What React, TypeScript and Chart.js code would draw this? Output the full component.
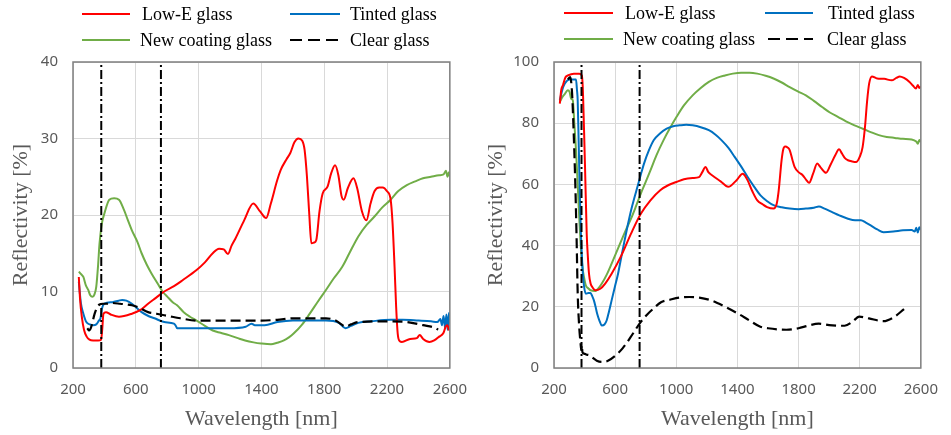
import React, { useEffect, useRef } from 'react';
import { Chart, registerables } from 'chart.js';
Chart.register(...registerables);

// ---------- shared ----------
const xTicks = [200, 600, 1000, 1400, 1800, 2200, 2600];
const visibleBounds = [380, 760];
const seriesNames = ['Low-E glass', 'Tinted glass', 'New coating glass', 'Clear glass'];

// ---------- left panel (reflectivity 0-40 %) ----------
const leftLowE = [[237,11.9],[245,9],[256,6.7],[270,5],[287,4.1],[305,3.7],[328,3.6],[360,3.6],[379,3.7],[386,5],[394,7.1],[410,7.3],[440,7],[493,6.7],[575,7.1],[630,7.6],[678,8.4],[730,9.2],[781,10.0],[843,10.7],[900,11.5],[987,12.8],[1040,13.8],[1090,15.0],[1130,15.6],[1160,15.5],[1187,14.9],[1210,16],[1234,16.9],[1290,19.3],[1348,21.5],[1390,20.5],[1430,19.6],[1460,21.5],[1500,24.5],[1523,25.9],[1560,27.3],[1584,28.1],[1610,29.5],[1636,30.0],[1660,29.7],[1675,28.5],[1690,25],[1705,20],[1718,16.3],[1735,16.4],[1749,16.7],[1770,20.5],[1790,22.8],[1821,23.7],[1845,25.5],[1869,26.5],[1890,25.2],[1910,22.5],[1924,22.0],[1950,23.5],[1986,24.8],[2010,23.5],[2040,20.5],[2069,19.3],[2095,21.5],[2120,23.1],[2150,23.6],[2172,23.6],[2200,23.1],[2223,22.0],[2235,19],[2248,13.2],[2258,8],[2268,4.5],[2282,3.5],[2295,3.4],[2347,3.8],[2390,3.9],[2408,4.3],[2430,3.8],[2470,3.4],[2500,3.6],[2532,4.1],[2560,4.6],[2573,5.4],[2585,5.6],[2594,4.9]];
const leftTinted = [[237,11.3],[250,8.5],[266,7.1],[285,6.0],[307,5.7],[330,5.6],[348,5.7],[365,6.2],[375,6.5],[385,7.8],[400,8.4],[451,8.6],[490,8.8],[513,8.9],[540,8.8],[575,8.4],[637,7.3],[680,6.8],[719,6.5],[781,6.0],[843,5.8],[855,5.5],[863,5.2],[987,5.2],[1193,5.2],[1300,5.4],[1337,5.8],[1358,5.6],[1420,5.6],[1502,6.0],[1600,6.2],[1708,6.2],[1811,6.2],[1893,5.9],[1935,5.2],[1970,5.5],[2017,5.9],[2100,6.1],[2223,6.3],[2300,6.3],[2400,6.2],[2480,6.1],[2520,6.0],[2540,6.4],[2550,5.6],[2560,6.8],[2570,5.2],[2578,7.0],[2586,5.0],[2594,7.2],[2600,5.8]];
const leftNewCoating = [[237,12.6],[250,12.3],[266,11.9],[282,10.8],[297,10.2],[310,9.5],[324,9.3],[336,9.6],[348,10.6],[360,13.5],[369,16.3],[385,19],[400,20.2],[431,22.0],[462,22.2],[493,22.0],[524,20.7],[550,19.3],[575,18.0],[610,16.5],[637,15.0],[670,13.5],[699,12.4],[740,11.0],[770,10.0],[802,9.3],[835,8.6],[863,8.2],[905,7.3],[945,6.7],[987,6.2],[1040,5.5],[1090,4.9],[1140,4.6],[1193,4.3],[1250,3.9],[1296,3.6],[1350,3.35],[1399,3.2],[1461,3.1],[1500,3.3],[1543,3.6],[1575,4.0],[1605,4.5],[1660,5.7],[1708,7.1],[1760,8.7],[1811,10.2],[1860,11.7],[1914,13.2],[1960,15.0],[2017,17.2],[2070,18.7],[2120,19.8],[2170,21.0],[2223,22.0],[2270,23.1],[2326,23.9],[2380,24.4],[2429,24.8],[2480,25.0],[2532,25.2],[2560,25.3],[2575,25.8],[2585,25.0],[2594,25.6],[2600,25.1]];
const leftClear = [[291,5.2],[303,4.9],[315,5.3],[338,7.1],[355,8.0],[369,8.3],[390,8.4],[410,8.4],[450,8.5],[500,8.4],[575,8.2],[620,7.9],[678,7.3],[730,7.1],[781,6.9],[830,6.7],[884,6.5],[987,6.2],[1200,6.2],[1399,6.2],[1500,6.3],[1605,6.5],[1811,6.5],[1873,6.2],[1910,5.7],[1935,5.4],[1970,5.7],[2017,6.0],[2223,6.1],[2330,6.0],[2429,5.6],[2511,5.2],[2525,5.0]];

// ---------- right panel (reflectivity 0-100 %) ----------
const rightLowE = [[238,86.4],[248,91.0],[259,92.5],[275,95.0],[291,95.6],[330,96.2],[365,96.2],[382,95.6],[388,92],[391,87.5],[397,77],[403,65.7],[414,43.9],[422,36],[429,30.8],[440,27.5],[450,26.5],[471,25.4],[503,25.9],[535,27.6],[577,30.8],[641,36.8],[704,43.9],[768,50.4],[831,54.8],[895,58.1],[950,59.8],[1001,60.8],[1050,61.7],[1107,62.1],[1149,62.4],[1170,64],[1191,65.7],[1210,64],[1234,63.0],[1290,61],[1340,59.2],[1393,61.3],[1435,63.5],[1450,62.8],[1467,61.3],[1500,57.5],[1530,54.8],[1565,53.5],[1594,52.6],[1636,52.1],[1657,53.7],[1670,58],[1689,67.9],[1700,71.5],[1712,72.4],[1730,72],[1742,71.2],[1760,68],[1774,65.7],[1800,64],[1827,63.0],[1850,61.5],[1869,60.5],[1895,63.5],[1922,66.8],[1945,65.5],[1980,63.8],[2010,66.5],[2040,69.5],[2065,71.5],[2085,70],[2105,68.5],[2123,67.9],[2150,67.5],[2176,67.3],[2200,69],[2219,72.2],[2235,79],[2248,87],[2262,93],[2280,95.3],[2314,94.6],[2360,94.5],[2409,94.0],[2440,94.8],[2462,95.3],[2490,94.8],[2526,93.5],[2548,92.3],[2568,91.3],[2580,92.5],[2590,91.5],[2600,92.0]];
const rightTinted = [[238,87.5],[255,91],[270,92.9],[302,94.3],[344,94.3],[350,91],[355,87.5],[360,77],[365,65.7],[370,55],[376,43.9],[382,37],[390,30],[397,26.5],[408,24.3],[425,24.5],[439,24.5],[450,23.5],[461,22.1],[472,20],[482,17.8],[497,15.5],[513,13.9],[530,14.2],[545,15.6],[560,18.5],[577,22.1],[598,26.5],[619,30.8],[640,36.2],[662,41.7],[683,46.8],[704,51.5],[725,55.5],[746,59.2],[768,63.2],[789,66.8],[820,71],[852,74.4],[895,76.7],[937,78.2],[980,79],[1022,79.3],[1065,79.5],[1107,79.3],[1160,78.7],[1213,77.7],[1255,76.3],[1297,74.4],[1340,72],[1382,69.0],[1425,65.8],[1467,62.4],[1510,59.2],[1551,56.4],[1595,54.5],[1636,53.2],[1690,52.5],[1742,52.1],[1800,51.9],[1848,52.1],[1900,52.4],[1933,52.8],[1970,52.1],[2017,51.0],[2070,49.8],[2123,48.8],[2170,48.3],[2208,48.3],[2240,47.5],[2272,46.6],[2315,45.3],[2356,44.4],[2420,44.6],[2483,45.0],[2540,45.1],[2560,44.6],[2570,45.8],[2580,44.3],[2590,46],[2600,45.2]];
const rightNewCoating = [[238,86.9],[255,88.6],[270,89.5],[290,90.8],[302,90.2],[312,88],[323,87.5],[333,80],[344,71.1],[355,60],[365,49.3],[375,40],[386,33.0],[397,29.5],[408,27.0],[425,26],[439,25.4],[471,25.2],[490,26],[513,27.6],[545,30.5],[577,34.1],[610,38],[641,41.7],[672,45.3],[704,48.8],[736,52.8],[768,57.0],[800,60.8],[831,64.6],[870,69.5],[916,74.4],[960,78.5],[1001,82.0],[1050,85.8],[1107,89.1],[1160,91.5],[1213,93.5],[1265,94.8],[1318,95.6],[1370,96.2],[1424,96.5],[1480,96.5],[1530,96.2],[1585,95.5],[1636,94.6],[1690,93.3],[1742,91.8],[1795,90.4],[1848,89.1],[1900,87.3],[1954,85.3],[2005,83.5],[2060,82.0],[2110,80.6],[2166,79.3],[2220,78.2],[2272,77.1],[2325,76.1],[2377,75.5],[2430,75.2],[2483,74.9],[2540,74.7],[2570,74.0],[2580,73.3],[2590,74.5],[2600,73.9]];
const rightClear = [[291,94.3],[306,95.1],[318,90],[328,78],[340,59],[348,42],[355,24.4],[365,13.4],[374,8],[378,6],[382,7.5],[386,5.2],[397,4.7],[410,4.4],[429,4.2],[450,3.5],[480,2.4],[513,2.0],[550,2.3],[600,4],[650,6.5],[700,10],[767,15],[810,17.5],[852,19.5],[900,21.5],[958,22.3],[1020,23],[1085,23.2],[1150,23],[1234,22],[1320,20],[1403,17.8],[1480,15.5],[1550,13.5],[1600,13],[1720,12.5],[1800,13],[1860,13.8],[1932,14.5],[2000,14],[2101,13.8],[2150,15],[2197,16.8],[2260,16.2],[2356,15.3],[2420,16.5],[2494,19.4]];

const TICK_COLOR = '#595959';
const TICK_FONT = { family: '"Noto Sans", sans-serif', size: 15 };
const TITLE_FONT = { family: '"Liberation Serif", "Times New Roman", serif', size: 22 };
const LEGEND_FONT = '18px "Liberation Serif", "Times New Roman", serif';

const toXY = (arr: number[][]) => arr.map(([x, y]) => ({ x, y }));

const framePlugin = {
  id: 'frame',
  afterDatasetsDraw(chart: any) {
    const { ctx, chartArea: a } = chart;
    ctx.save();
    ctx.strokeStyle = '#7f7f7f';
    ctx.lineWidth = 1.5;
    ctx.strokeRect(a.left, a.top, a.right - a.left, a.bottom - a.top);
    ctx.restore();
  },
};

const legendPlugin = {
  id: 'customLegend',
  afterDraw(chart: any, _args: any, opts: any) {
    const { ctx } = chart;
    const items = opts.items || [];
    ctx.save();
    items.forEach((it: any) => {
      ctx.beginPath();
      ctx.strokeStyle = it.color;
      ctx.lineWidth = 2;
      ctx.setLineDash(it.dash || []);
      ctx.moveTo(it.x1, it.y);
      ctx.lineTo(it.x2, it.y);
      ctx.stroke();
      ctx.setLineDash([]);
      ctx.fillStyle = '#000';
      ctx.font = LEGEND_FONT;
      ctx.textBaseline = 'middle';
      ctx.textAlign = 'left';
      ctx.fillText(it.text, it.tx, it.y + 1);
    });
    ctx.restore();
  },
};

const COLORS = ['#ff0000', '#0070c0', '#70ad47', '#000000'];

function buildConfig(p: any) {
  const series = [p.lowE, p.tinted, p.newCoating, p.clear];
  const datasets: any[] = visibleBounds.map((v) => ({
    data: [{ x: v, y: 0 }, { x: v, y: p.ymax }],
    borderColor: '#000',
    borderWidth: 2,
    borderDash: [9, 3, 2, 3],
    pointRadius: 0,
    order: 0,
  }));
  series.forEach((s, i) => {
    datasets.push({
      label: seriesNames[i],
      data: toXY(s),
      borderColor: COLORS[i],
      borderWidth: i === 3 ? 2.2 : 2,
      borderDash: i === 3 ? [10, 5] : [],
      pointRadius: 0,
      cubicInterpolationMode: 'monotone',
      order: i === 3 ? 1 : 2 + i,
    });
  });
  const legendItems = p.legend.map((l: any, i: number) => ({
    ...l,
    text: seriesNames[i],
    color: COLORS[i],
    dash: i === 3 ? [12, 6] : [],
  }));
  return {
    type: 'line',
    data: { datasets },
    options: {
      responsive: false,
      animation: false,
      events: [],
      layout: { padding: { left: 0, top: 62, right: p.rightPad, bottom: 0 } },
      plugins: {
        legend: { display: false },
        tooltip: { enabled: false },
        customLegend: { items: legendItems },
      },
      scales: {
        x: {
          type: 'linear',
          min: 200,
          max: 2600,
          afterBuildTicks: (s: any) => { s.ticks = xTicks.map((v) => ({ value: v })); },
          afterFit: (s: any) => { s.height = 67; },
          ticks: { color: TICK_COLOR, font: TICK_FONT, padding: 13, maxRotation: 0, autoSkip: false, callback: (v: any) => String(v) },
          grid: { color: '#d9d9d9', lineWidth: 1, drawTicks: false },
          border: { display: false },
          title: { display: true, text: 'Wavelength [nm]', color: TICK_COLOR, font: TITLE_FONT, padding: { top: 0, bottom: 3 } },
        },
        y: {
          type: 'linear',
          min: 0,
          max: p.ymax,
          ticks: { stepSize: p.step, color: TICK_COLOR, font: TICK_FONT, padding: 15, callback: (v: any) => String(v) },
          afterFit: (s: any) => { s.width = p.leftW; },
          grid: { color: '#d9d9d9', lineWidth: 1, drawTicks: false },
          border: { display: false },
          title: { display: true, text: 'Reflectivity [%]', color: TICK_COLOR, font: TITLE_FONT, padding: { top: p.yTitlePad, bottom: 0 } },
        },
      },
    },
    plugins: [framePlugin, legendPlugin],
  };
}

const leftPanel = {
  lowE: leftLowE, tinted: leftTinted, newCoating: leftNewCoating, clear: leftClear,
  ymax: 40, step: 10, leftW: 73, rightPad: 19, yTitlePad: 8,
  legend: [
    { x1: 82, x2: 130, y: 14, tx: 142 },
    { x1: 290, x2: 340, y: 14, tx: 350 },
    { x1: 82, x2: 130, y: 40, tx: 140 },
    { x1: 290, x2: 340, y: 40, tx: 350 },
  ],
};

const rightPanel = {
  lowE: rightLowE, tinted: rightTinted, newCoating: rightNewCoating, clear: rightClear,
  ymax: 100, step: 20, leftW: 74, rightPad: 19, yTitlePad: 3,
  legend: [
    { x1: 84, x2: 133, y: 13, tx: 145 },
    { x1: 285, x2: 333, y: 13, tx: 348 },
    { x1: 84, x2: 133, y: 39, tx: 143 },
    { x1: 288, x2: 333, y: 39, tx: 347 },
  ],
};

function Panel({ cfg, left, width }: { cfg: any; left: number; width: number }) {
  const ref = useRef<HTMLCanvasElement>(null);
  useEffect(() => {
    if (!ref.current) return;
    const chart = new Chart(ref.current, buildConfig(cfg) as any);
    return () => chart.destroy();
  }, [cfg]);
  return (
    <canvas
      ref={ref}
      width={width}
      height={435}
      style={{ position: 'absolute', left, top: 0, width, height: 435 }}
    />
  );
}

export default function App() {
  return (
    <div style={{ position: 'absolute', left: 0, top: 0, width: 951, height: 435, background: '#fff' }}>
      <Panel cfg={leftPanel} left={0} width={480} />
      <Panel cfg={rightPanel} left={480} width={471} />
    </div>
  );
}
